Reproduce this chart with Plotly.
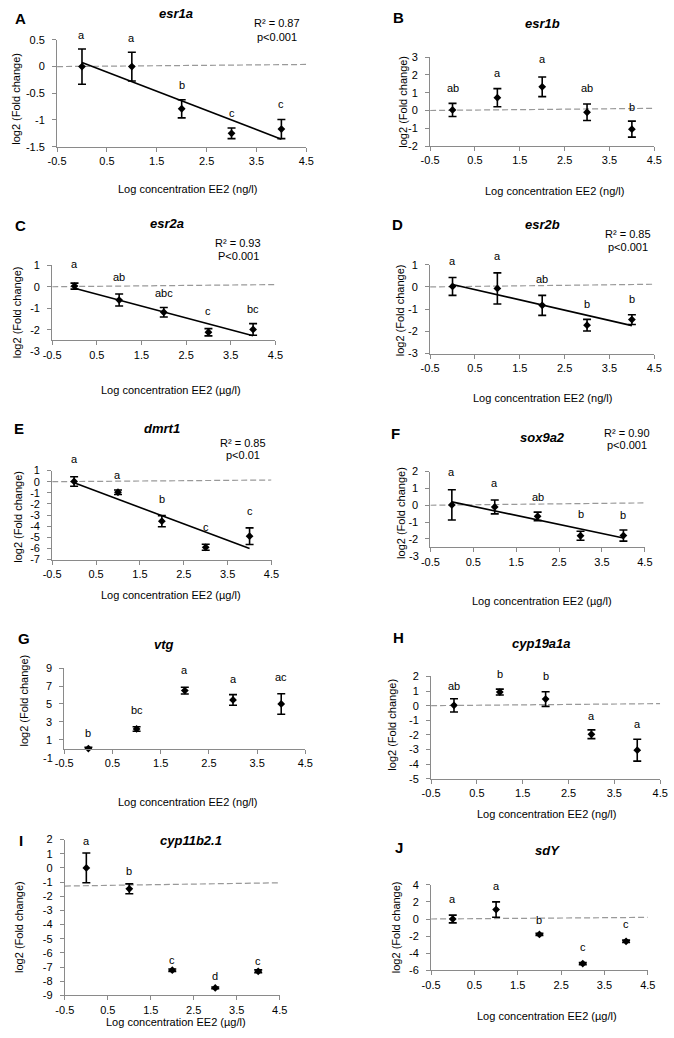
import numpy as np
import plotly.graph_objects as go

W, H = 674, 1038
FONT = "Liberation Sans, Arial, sans-serif"

log_conc = [0, 1, 2, 3, 4]
x_ticks = [-0.5, 0.5, 1.5, 2.5, 3.5, 4.5]

# ---------------- data ----------------
esr1a_mean = [0.0, 0.0, -0.79, -1.25, -1.17]
esr1a_err = [0.33, 0.27, 0.17, 0.10, 0.18]
esr1a_sig = ["a", "a", "b", "c", "c"]
esr1a_sig_y = [0.60, 0.54, -0.35, -0.87, -0.70]
esr1a_yticks = [-1.5, -1, -0.5, 0, 0.5]

esr1b_mean = [0.03, 0.72, 1.33, -0.10, -1.05]
esr1b_err = [0.37, 0.51, 0.55, 0.46, 0.45]
esr1b_sig = ["ab", "a", "a", "ab", "b"]
esr1b_sig_y = [1.28, 2.11, 2.91, 1.24, 0.22]
esr1b_yticks = [-2, -1, 0, 1, 2, 3]

esr2a_mean = [0.03, -0.62, -1.19, -2.12, -1.99]
esr2a_err = [0.14, 0.28, 0.22, 0.17, 0.27]
esr2a_sig = ["a", "ab", "abc", "c", "bc"]
esr2a_sig_y = [1.06, 0.47, -0.29, -1.15, -1.05]
esr2a_yticks = [-3, -2, -1, 0, 1]

esr2b_mean = [0.02, -0.07, -0.83, -1.72, -1.47]
esr2b_err = [0.40, 0.70, 0.45, 0.26, 0.22]
esr2b_sig = ["a", "a", "ab", "b", "b"]
esr2b_sig_y = [1.18, 1.37, 0.36, -0.78, -0.56]
esr2b_yticks = [-3, -2, -1, 0, 1]

dmrt1_mean = [0.02, -0.95, -3.55, -5.90, -4.90]
dmrt1_err = [0.43, 0.20, 0.50, 0.27, 0.75]
dmrt1_sig = ["a", "a", "b", "c", "c"]
dmrt1_sig_y = [2.04, 0.64, -1.58, -4.10, -2.64]
dmrt1_yticks = [-7, -6, -5, -4, -3, -2, -1, 0, 1]

sox9a2_mean = [0.02, -0.10, -0.66, -1.81, -1.80]
sox9a2_err = [0.90, 0.41, 0.25, 0.27, 0.33]
sox9a2_sig = ["a", "a", "ab", "b", "b"]
sox9a2_sig_y = [2.0, 1.35, 0.51, -0.51, -0.57]
sox9a2_yticks = [-3, -2, -1, 0, 1, 2]

vtg_mean = [0.0, 2.2, 6.5, 5.45, 5.0]
vtg_err = [0.15, 0.25, 0.38, 0.60, 1.15]
vtg_sig = ["b", "bc", "a", "a", "ac"]
vtg_sig_y = [1.8, 4.3, 8.75, 7.85, 8.0]
vtg_yticks = [-1, 1, 3, 5, 7, 9]

cyp19a1a_mean = [0.02, 0.93, 0.45, -1.96, -3.05]
cyp19a1a_err = [0.45, 0.20, 0.50, 0.30, 0.75]
cyp19a1a_sig = ["ab", "b", "b", "a", "a"]
cyp19a1a_sig_y = [1.36, 2.15, 2.0, -0.72, -1.29]
cyp19a1a_yticks = [-5, -4, -3, -2, -1, 0, 1, 2]

cyp11b2_mean = [0.0, -1.48, -7.22, -8.47, -7.30]
cyp11b2_err = [1.05, 0.35, 0.08, 0.06, 0.10]
cyp11b2_sig = ["a", "b", "c", "d", "c"]
cyp11b2_sig_y = [1.93, -0.23, -6.51, -7.60, -6.56]
cyp11b2_yticks = [-9, -8, -7, -6, -5, -4, -3, -2, -1, 0, 1, 2]

sdY_mean = [0.0, 1.1, -1.8, -5.2, -2.6]
sdY_err = [0.45, 0.90, 0.12, 0.12, 0.14]
sdY_sig = ["a", "a", "b", "c", "c"]
sdY_sig_y = [2.3, 3.9, -0.08, -3.27, -0.58]
sdY_yticks = [-6, -4, -2, 0, 2, 4]

NG = "Log concentration EE2 (ng/l)"
UG = "Log concentration EE2 (µg/l)"

# ---------------- panel layout (pixels) ----------------
panels = [
    dict(tag="A", gene="esr1a", mean=esr1a_mean, err=esr1a_err, sig=esr1a_sig, sig_y=esr1a_sig_y,
         yticks=esr1a_yticks, ymin=-1.5, ymax=0.5, box=(49.3, 305, 34.3, 142.3), trend=True,
         r2=("R² = 0.87", "p<0.001"), r2pos=(275, 17, 31), dash=(0.0, 0.04),
         letter=(12, 13), title=(171, 8), xt=(183, 185, NG), yt=(7, 94)),
    dict(tag="B", gene="esr1b", mean=esr1b_mean, err=esr1b_err, sig=esr1b_sig, sig_y=esr1b_sig_y,
         yticks=esr1b_yticks, ymin=-2, ymax=3, box=(432, 662, 51.7, 141.7), trend=False,
         r2=None, dash=(0.0, 0.12),
         letter=(400, 12), title=(547, 18), xt=(560, 187, NG), yt=(404, 97)),
    dict(tag="C", gene="esr2a", mean=esr2a_mean, err=esr2a_err, sig=esr2a_sig, sig_y=esr2a_sig_y,
         yticks=esr2a_yticks, ymin=-2.5, ymax=1, box=(44.3, 273.3, 262.3, 338.3), trend=True,
         r2=("R² = 0.93", "P<0.001"), r2pos=(235, 240, 253), dash=(0.0, 0.1),
         letter=(12, 222), title=(162, 220), xt=(166, 388, UG), yt=(9, 310)),
    dict(tag="D", gene="esr2b", mean=esr2b_mean, err=esr2b_err, sig=esr2b_sig, sig_y=esr2b_sig_y,
         yticks=esr2b_yticks, ymin=-3, ymax=1, box=(432, 662, 261.7, 351.7), trend=True,
         r2=("R² = 0.85", "p<0.001"), r2pos=(635, 231, 244), dash=(0.0, 0.12),
         letter=(399, 221), title=(547, 221), xt=(547, 397, NG), yt=(402, 308)),
    dict(tag="E", gene="dmrt1", mean=dmrt1_mean, err=dmrt1_err, sig=dmrt1_sig, sig_y=dmrt1_sig_y,
         yticks=dmrt1_yticks, ymin=-7, ymax=1, box=(44.3, 269.3, 470, 560), trend=True,
         r2=("R² = 0.85", "p<0.01"), r2pos=(240, 442, 454), dash=(0.0, 0.15),
         letter=(10, 427), title=(157, 427), xt=(166, 596, UG), yt=(9, 517)),
    dict(tag="F", gene="sox9a2", mean=sox9a2_mean, err=sox9a2_err, sig=sox9a2_sig, sig_y=sox9a2_sig_y,
         yticks=sox9a2_yticks, ymin=-2.5, ymax=2, box=(432.3, 652.3, 471, 547.7), trend=True,
         r2=("R² = 0.90", "p<0.001"), r2pos=(634, 432, 444), dash=(0.0, 0.14),
         letter=(397, 433), title=(547, 437), xt=(547, 602, UG), yt=(402, 513)),
    dict(tag="G", gene="vtg", mean=vtg_mean, err=vtg_err, sig=vtg_sig, sig_y=vtg_sig_y,
         yticks=vtg_yticks, ymin=0, ymax=9, box=(56.7, 304, 670, 751.3), trend=False,
         r2=None, dash=None,
         letter=(15, 640), title=(159, 646), xt=(183, 805, NG), yt=(15, 703)),
    dict(tag="H", gene="cyp19a1a", mean=cyp19a1a_mean, err=cyp19a1a_err, sig=cyp19a1a_sig,
         sig_y=cyp19a1a_sig_y, yticks=cyp19a1a_yticks, ymin=-5, ymax=2, box=(433, 668, 678.3, 781.7),
         trend=False, r2=None, dash=(0.0, 0.14),
         letter=(400, 639), title=(546, 645), xt=(551, 817, NG), yt=(393, 727)),
    dict(tag="I", gene="cyp11b2.1", mean=cyp11b2_mean, err=cyp11b2_err, sig=cyp11b2_sig,
         sig_y=cyp11b2_sig_y, yticks=cyp11b2_yticks, ymin=-9, ymax=2, box=(57.3, 277.7, 843.3, 1001),
         trend=False, r2=None, dash=(-1.28, -1.05),
         letter=(12, 844), title=(187, 844), xt=(171, 1028, UG), yt=(10, 932)),
    dict(tag="J", gene="sdY", mean=sdY_mean, err=sdY_err, sig=sdY_sig, sig_y=sdY_sig_y,
         yticks=sdY_yticks, ymin=-6, ymax=4, box=(433, 655.3, 889, 975.7), trend=False,
         r2=None, dash=(0.0, 0.19),
         letter=(400, 851), title=(552, 854), xt=(552, 1022, UG), yt=(397, 932)),
]

AX = "#8a8a8a"
fig = go.Figure()
annotations = []


def px(x):
    return x / W


def py(y):
    return 1 - y / H


def txt(x, y, s, size=11, bold=False, italic=False, angle=0, xanchor="center"):
    if bold:
        s = "<b>" + s + "</b>"
    if italic:
        s = "<i>" + s + "</i>"
    annotations.append(dict(x=px(x), y=py(y), xref="paper", yref="paper", text=s, showarrow=False,
                            textangle=angle, xanchor=xanchor, yanchor="middle",
                            font=dict(family=FONT, size=size, color="black")))


layout_axes = {}
for i, p in enumerate(panels, start=1):
    xa = "x" if i == 1 else f"x{i}"
    ya = "y" if i == 1 else f"y{i}"
    xl, xr, yt, yb = p["box"]

    def map_x(v):
        return xl + (v + 0.5) / 5.0 * (xr - xl)

    def map_y(v):
        return yt + (p["ymax"] - v) / (p["ymax"] - p["ymin"]) * (yb - yt)

    layout_axes["xaxis" if i == 1 else f"xaxis{i}"] = dict(
        domain=[px(xl), px(xr)], range=[-0.5, 4.5], anchor=ya,
        tickvals=x_ticks, ticktext=[f"{v:g}" for v in x_ticks],
        showline=True, linecolor=AX, linewidth=1, ticks="outside", ticklen=4, tickcolor=AX,
        showgrid=False, zeroline=False, tickfont=dict(family=FONT, size=11, color="black"),
        ticklabeloverflow="allow", fixedrange=True)
    layout_axes["yaxis" if i == 1 else f"yaxis{i}"] = dict(
        domain=[py(yb), py(yt)], range=[p["ymin"], p["ymax"]], anchor=xa,
        tickvals=p["yticks"], ticktext=[f"{v:g}" for v in p["yticks"]],
        showline=True, linecolor=AX, linewidth=1, ticks="outside", ticklen=4, tickcolor=AX,
        showgrid=False, zeroline=False, tickfont=dict(family=FONT, size=11, color="black"),
        ticklabelstandoff=5, ticklabeloverflow="allow", fixedrange=True)

    # tick labels below the axis crossing (Excel-style axis crossing)
    for v in p["yticks"]:
        if v < p["ymin"]:
            txt(xl - 10, map_y(v), f"{v:g}", xanchor="right")

    if p["dash"] is not None:
        fig.add_trace(go.Scatter(x=[-0.5, 4.5], y=list(p["dash"]), mode="lines",
                                 line=dict(color="#999999", width=1.2, dash="6px,3px"),
                                 xaxis=xa, yaxis=ya, hoverinfo="skip", showlegend=False))
    if p["trend"]:
        b, a = np.polyfit(log_conc, p["mean"], 1)
        xs = [min(log_conc), max(log_conc)]
        fig.add_trace(go.Scatter(x=xs, y=[a + b * v for v in xs], mode="lines",
                                 line=dict(color="black", width=1.6),
                                 xaxis=xa, yaxis=ya, hoverinfo="skip", showlegend=False))
    fig.add_trace(go.Scatter(x=log_conc, y=p["mean"], mode="markers",
                             marker=dict(symbol="diamond", size=6, color="black"),
                             error_y=dict(type="data", array=p["err"], color="black",
                                          thickness=1.6, width=4),
                             cliponaxis=False, xaxis=xa, yaxis=ya, showlegend=False))
    # significance letters (placed through the panel's own axis mapping)
    for xv, s, yv in zip(log_conc, p["sig"], p["sig_y"]):
        txt(map_x(xv), map_y(yv), s, size=11)

    txt(p["letter"][0], p["letter"][1], p["tag"], size=15, bold=True)
    txt(p["title"][0], p["title"][1], p["gene"], size=13, bold=True, italic=True)
    txt(p["xt"][0], p["xt"][1], p["xt"][2], size=11)
    txt(p["yt"][0], p["yt"][1], "log2 (Fold change)", size=11, angle=-90)
    if p["r2"] is not None:
        txt(p["r2pos"][0], p["r2pos"][1], p["r2"][0], size=11)
        txt(p["r2pos"][0], p["r2pos"][2], p["r2"][1], size=11)

fig.update_layout(width=W, height=H, autosize=False, margin=dict(l=0, r=0, t=0, b=0),
                  paper_bgcolor="white", plot_bgcolor="white", showlegend=False,
                  font=dict(family=FONT, color="black"), hovermode=False,
                  annotations=annotations, **layout_axes)

fig.write_html("out.html", config={"displayModeBar": False, "staticPlot": True},
               post_script="document.body.style.margin='0';")
